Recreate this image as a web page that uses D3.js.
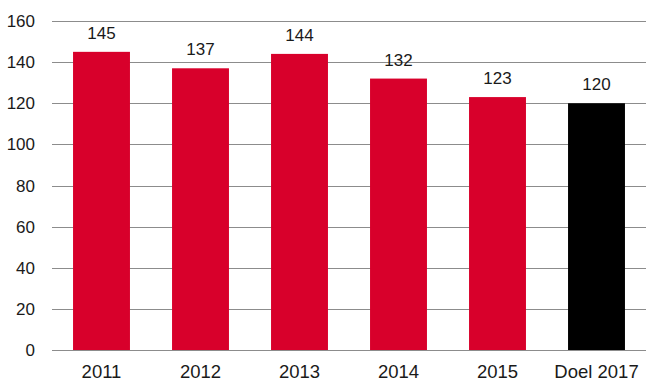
<!DOCTYPE html>
<meta charset="utf-8">
<style>
body { margin: 0; background: #fff; }
.grid line { stroke: #8c8c8c; stroke-width: 1px; shape-rendering: crispEdges; }
.grid path { display: none; }
text { font-family: "Liberation Sans", Arial, sans-serif; fill: #1a1a1a; }
</style>
<svg width="656" height="385"></svg>
<script src="https://d3js.org/d3.v7.min.js"></script>
<script>
var categories = ["2011", "2012", "2013", "2014", "2015", "Doel 2017"];
var values = [145, 137, 144, 132, 123, 120];
var barColors = ["#d8002b", "#d8002b", "#d8002b", "#d8002b", "#d8002b", "#000000"];
var yTicks = [0, 20, 40, 60, 80, 100, 120, 140, 160];

var svg = d3.select("svg"),
    margin = {top: 21, right: 10, bottom: 35, left: 52},
    width = +svg.attr("width") - margin.left - margin.right,
    height = +svg.attr("height") - margin.top - margin.bottom,
    g = svg.append("g").attr("transform", "translate(" + margin.left + "," + margin.top + ")");

var x = d3.scaleBand().domain(categories).range([0, width]).paddingInner(0.425).paddingOuter(0.2125);
var y = d3.scaleLinear().domain([0, 160]).range([height, 0]);

// gridlines
g.append("g")
    .attr("class", "grid")
    .call(d3.axisLeft(y).tickValues(yTicks).tickSize(-width).tickFormat(""));

// y labels
g.selectAll(".ylab")
  .data(yTicks)
  .enter().append("text")
    .attr("class", "ylab")
    .attr("x", -17)
    .attr("y", function(d) { return y(d); })
    .attr("dy", "0.36em")
    .attr("text-anchor", "end")
    .style("font-size", "17px")
    .text(function(d) { return d; });

g.selectAll(".bar")
  .data(values)
  .enter().append("rect")
    .attr("class", "bar")
    .attr("x", function(d, i) { return x(categories[i]); })
    .attr("y", function(d) { return y(d); })
    .attr("width", x.bandwidth())
    .attr("height", function(d) { return height - y(d); })
    .attr("fill", function(d, i) { return barColors[i]; });

g.selectAll(".vlab")
  .data(values)
  .enter().append("text")
    .attr("class", "vlab")
    .attr("x", function(d, i) { return x(categories[i]) + x.bandwidth() / 2; })
    .attr("y", function(d) { return y(d) - 13; })
    .attr("text-anchor", "middle")
    .style("font-size", "17px")
    .text(function(d) { return d; });

g.selectAll(".xlab")
  .data(categories)
  .enter().append("text")
    .attr("class", "xlab")
    .attr("x", function(d) { return x(d) + x.bandwidth() / 2; })
    .attr("y", height + 28)
    .attr("text-anchor", "middle")
    .style("font-size", "18.5px")
    .text(function(d) { return d; });
</script>
